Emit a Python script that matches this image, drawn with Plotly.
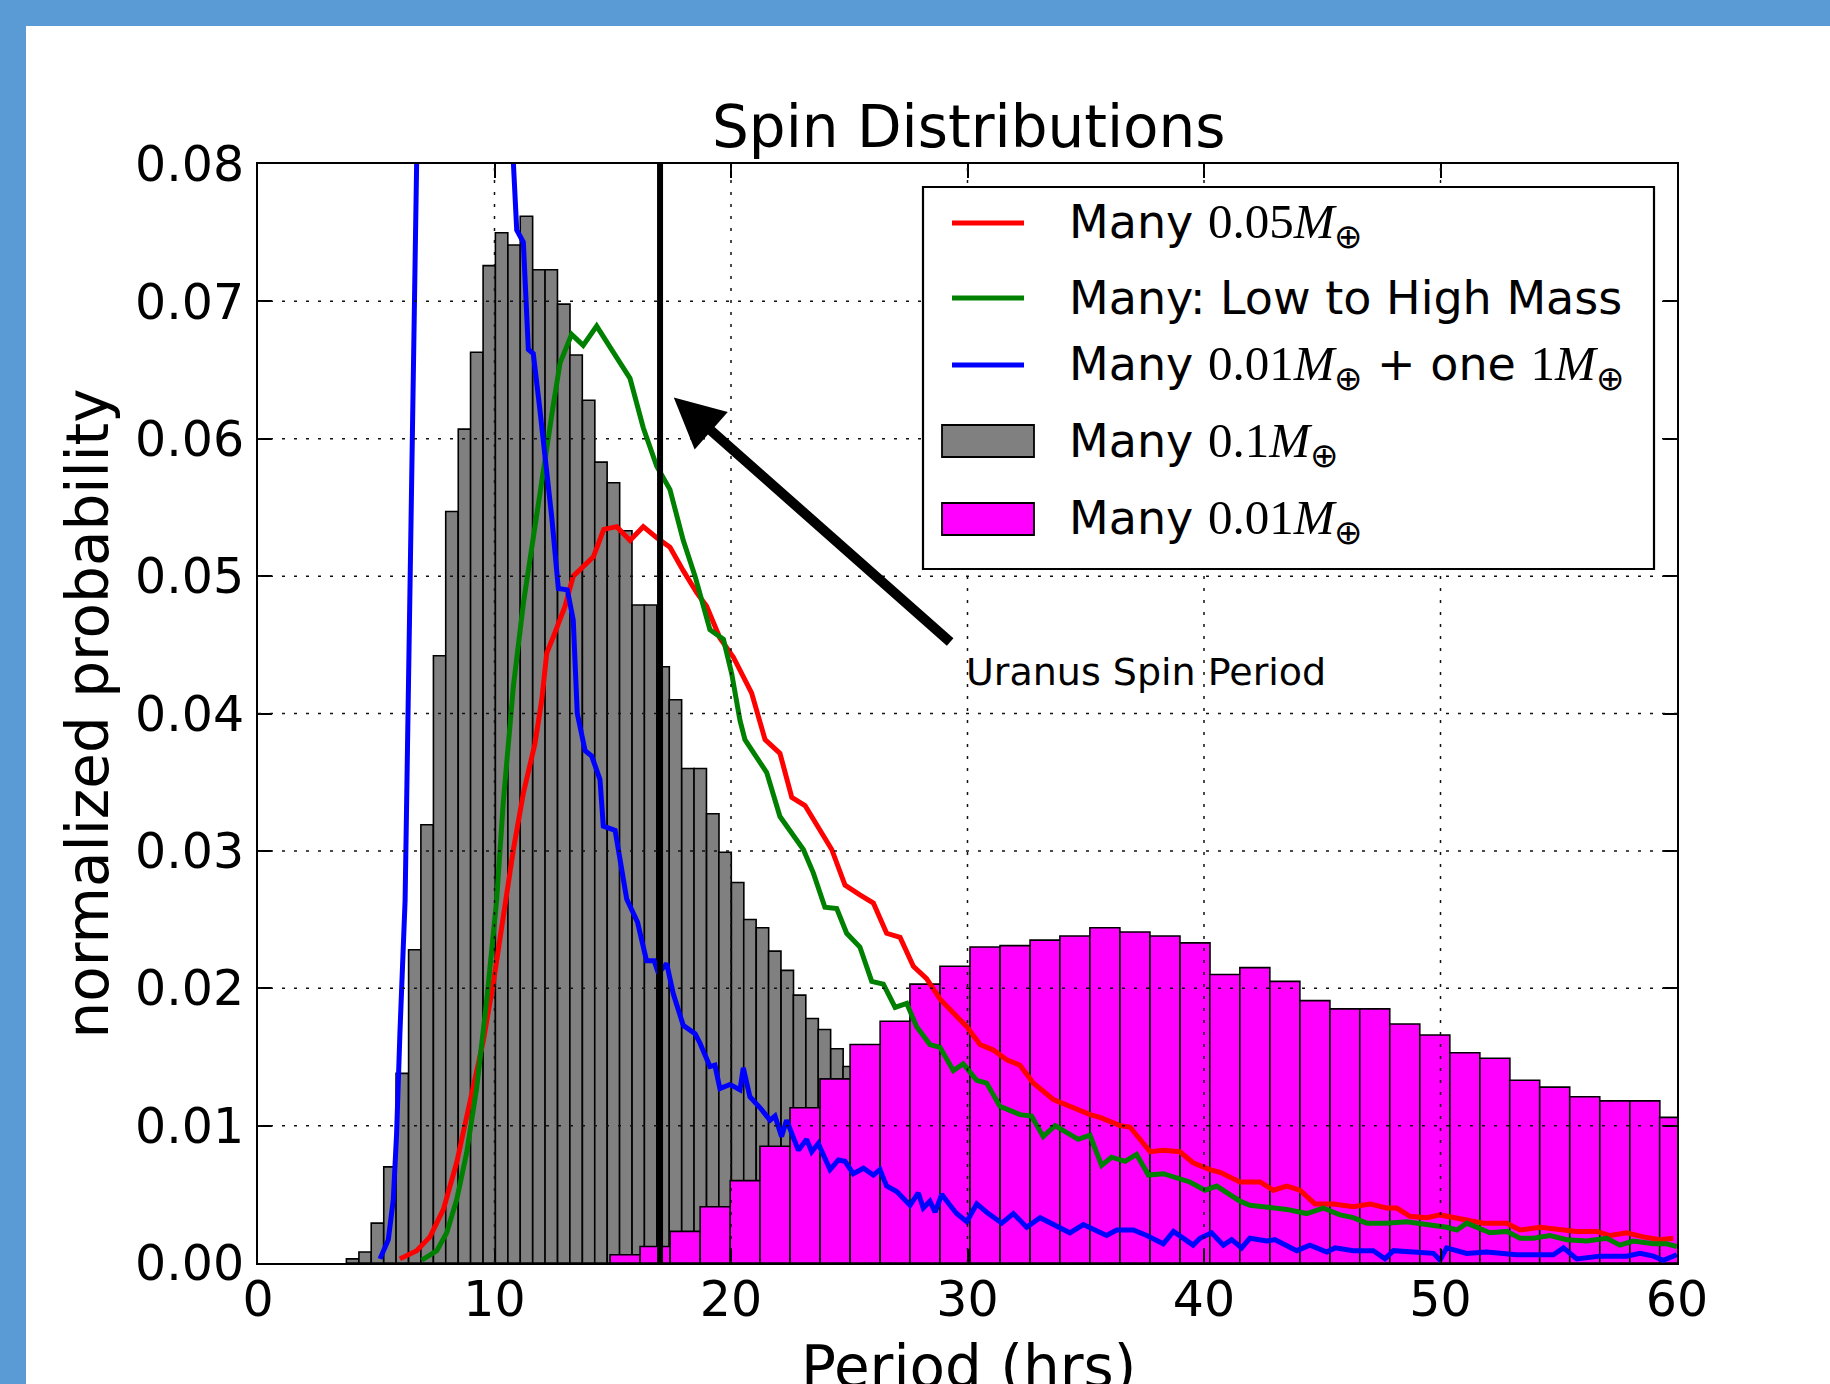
import plotly.graph_objects as go

# ---------------- data ----------------
X_TICKS = [0, 10, 20, 30, 40, 50, 60]
Y_TICKS = [0.00, 0.01, 0.02, 0.03, 0.04, 0.05, 0.06, 0.07, 0.08]

# "Many 0.1 M_earth" histogram (bin centres, normalized probability)
GRAY_CENTERS = [4.00, 4.53, 5.05, 5.58, 6.10, 6.63, 7.15, 7.68, 8.20, 8.73,
                9.25, 9.78, 10.30, 10.83, 11.35, 11.88, 12.40, 12.93, 13.45, 13.98,
                14.50, 15.03, 15.55, 16.08, 16.60, 17.13, 17.65, 18.18, 18.70, 19.23,
                19.75, 20.28, 20.80, 21.33, 21.85, 22.38, 22.90, 23.43, 23.95, 24.48,
                25.00, 25.53, 26.05, 26.58, 27.10]
GRAY_VALUES = [0.0003, 0.0008, 0.0029, 0.0070, 0.0138, 0.0228, 0.0319, 0.0442, 0.0547, 0.0607,
               0.0663, 0.0726, 0.0750, 0.0741, 0.0762, 0.0723, 0.0723, 0.0698, 0.0661, 0.0628,
               0.0583, 0.0568, 0.0533, 0.0479, 0.0479, 0.0434, 0.0410, 0.0360, 0.0360, 0.0327,
               0.0299, 0.0277, 0.0250, 0.0244, 0.0227, 0.0213, 0.0195, 0.0178, 0.0170, 0.0156,
               0.0143, 0.0132, 0.0124, 0.0116, 0.0108]

# "Many 0.01 M_earth" histogram
MAGENTA_CENTERS = [15.52, 16.79, 18.06, 19.33, 20.60, 21.86, 23.13, 24.40, 25.67, 26.94,
                   28.20, 29.47, 30.74, 32.01, 33.28, 34.54, 35.81, 37.08, 38.35, 39.62,
                   40.88, 42.15, 43.42, 44.69, 45.96, 47.22, 48.49, 49.76, 51.03, 52.30,
                   53.56, 54.83, 56.10, 57.37, 58.64, 59.90]
MAGENTA_VALUES = [0.0006, 0.0012, 0.0023, 0.0041, 0.0060, 0.0085, 0.0113, 0.0134, 0.0159, 0.0176,
                  0.0203, 0.0216, 0.0230, 0.0231, 0.0235, 0.0238, 0.0244, 0.0241, 0.0238, 0.0233,
                  0.0210, 0.0215, 0.0205, 0.0191, 0.0185, 0.0185, 0.0174, 0.0166, 0.0153, 0.0149,
                  0.0133, 0.0128, 0.0121, 0.0118, 0.0118, 0.0106]

# "Many 0.05 M_earth"
RED_X = [6.00, 6.71, 7.27, 7.84, 8.40, 8.96, 9.53, 9.95, 10.37, 10.80,
         11.22, 11.71, 12.00, 12.21, 12.49, 12.98, 13.33, 13.90, 14.18, 14.62,
         15.17, 15.73, 16.29, 16.86, 17.42, 17.98, 18.55, 18.97, 19.53, 20.10,
         20.87, 21.44, 22.07, 22.57, 23.13, 24.26, 24.82, 25.45, 26.02, 26.58,
         27.15, 27.71, 28.27, 28.84, 29.40, 29.97, 30.53, 31.09, 31.66, 32.22,
         32.78, 33.63, 34.48, 35.18, 35.60, 36.45, 36.87, 37.72, 38.28, 38.98,
         39.54, 40.25, 40.68, 41.52, 42.37, 42.93, 43.50, 44.06, 44.69, 45.47,
         46.31, 47.02, 47.72, 48.15, 48.71, 49.42, 49.98, 50.54, 51.11, 51.81,
         52.80, 53.36, 54.21, 55.05, 55.76, 56.61, 57.17, 57.87, 58.58, 59.28, 59.84]
RED_Y = [0.0003, 0.0009, 0.0019, 0.0039, 0.0073, 0.0119, 0.0162, 0.0204, 0.0252, 0.0301,
         0.0342, 0.0378, 0.0410, 0.0444, 0.0456, 0.0478, 0.0500, 0.0509, 0.0514, 0.0534,
         0.0536, 0.0526, 0.0536, 0.0528, 0.0521, 0.0504, 0.0488, 0.0478, 0.0455, 0.0441,
         0.0415, 0.0381, 0.0371, 0.0339, 0.0333, 0.0301, 0.0275, 0.0268, 0.0262, 0.0240,
         0.0237, 0.0216, 0.0207, 0.0192, 0.0182, 0.0172, 0.0159, 0.0155, 0.0148, 0.0144,
         0.0131, 0.0119, 0.0113, 0.0108, 0.0106, 0.0100, 0.0099, 0.0081, 0.0082, 0.0081,
         0.0073, 0.0068, 0.0066, 0.0059, 0.0059, 0.0053, 0.0056, 0.0053, 0.0043, 0.0043,
         0.0041, 0.0043, 0.0040, 0.0040, 0.0034, 0.0033, 0.0035, 0.0033, 0.0031, 0.0029,
         0.0029, 0.0024, 0.0026, 0.0024, 0.0023, 0.0023, 0.0020, 0.0022, 0.0019, 0.0017, 0.0018]

# "Many: Low to High Mass"
GREEN_X = [6.92, 7.56, 7.98, 8.40, 8.82, 9.25, 9.67, 10.09, 10.37, 10.80,
           11.22, 11.64, 12.06, 12.49, 12.77, 13.26, 13.75, 14.32, 15.02, 15.73,
           16.29, 16.86, 17.42, 17.98, 18.48, 19.11, 19.68, 20.03, 20.38, 20.59,
           21.51, 22.07, 23.06, 23.48, 23.97, 24.47, 24.89, 25.45, 25.95, 26.44,
           26.94, 27.43, 27.85, 28.41, 28.84, 29.40, 29.82, 30.39, 30.81, 31.37,
           32.22, 32.71, 33.20, 33.70, 34.68, 35.18, 35.67, 36.09, 36.66, 37.15,
           37.65, 38.28, 39.40, 40.04, 40.54, 41.52, 41.94, 42.65, 43.50, 44.34,
           45.04, 45.75, 46.31, 46.88, 47.72, 48.57, 49.42, 50.26, 50.69, 51.11,
           52.09, 52.80, 53.36, 53.92, 54.63, 55.34, 56.18, 57.03, 57.59, 58.15,
           59.00, 59.56, 59.99]
GREEN_Y = [0.0002, 0.0009, 0.0022, 0.0046, 0.0080, 0.0128, 0.0191, 0.0264, 0.0335, 0.0420,
           0.0480, 0.0530, 0.0580, 0.0625, 0.0655, 0.0676, 0.0668, 0.0682, 0.0663, 0.0644,
           0.0608, 0.0580, 0.0563, 0.0526, 0.0500, 0.0461, 0.0454, 0.0429, 0.0395, 0.0381,
           0.0357, 0.0325, 0.0301, 0.0284, 0.0259, 0.0258, 0.0240, 0.0230, 0.0205, 0.0203,
           0.0186, 0.0189, 0.0172, 0.0159, 0.0157, 0.0140, 0.0145, 0.0133, 0.0131, 0.0114,
           0.0108, 0.0107, 0.0092, 0.0100, 0.0090, 0.0093, 0.0071, 0.0077, 0.0074, 0.0079,
           0.0064, 0.0065, 0.0059, 0.0053, 0.0056, 0.0045, 0.0042, 0.0041, 0.0039, 0.0036,
           0.0040, 0.0035, 0.0033, 0.0029, 0.0029, 0.0030, 0.0028, 0.0026, 0.0024, 0.0029,
           0.0022, 0.0023, 0.0018, 0.0018, 0.0020, 0.0017, 0.0016, 0.0018, 0.0013, 0.0016,
           0.0014, 0.0014, 0.0012]

# "Many 0.01 M_earth + one 1 M_earth" (peak runs off the top of the axes)
BLUE_X = [5.16, 5.51, 5.72, 5.86, 6.00, 6.22, 6.78, 7.35, 8.20, 9.00,
          9.80, 10.38, 10.94, 11.22, 11.43, 11.64, 11.92, 12.42, 12.70, 13.08,
          13.33, 13.50, 13.83, 14.11, 14.46, 14.60, 15.10, 15.59, 16.05, 16.43,
          16.75, 16.93, 17.28, 17.56, 17.98, 18.48, 18.69, 19.11, 19.32, 19.53,
          19.96, 20.38, 20.52, 20.80, 21.23, 21.65, 21.86, 22.14, 22.35, 22.85,
          23.20, 23.41, 23.69, 24.19, 24.54, 24.82, 25.17, 25.60, 26.02, 26.30,
          26.58, 27.01, 27.57, 27.92, 28.13, 28.41, 28.63, 28.91, 29.26, 29.54,
          29.97, 30.39, 30.81, 31.45, 31.94, 32.50, 33.07, 33.49, 34.33, 34.90,
          35.88, 36.31, 37.01, 37.58, 38.28, 38.71, 39.54, 39.83, 40.32, 40.82,
          41.17, 41.59, 41.94, 42.65, 43.00, 43.92, 44.48, 45.19, 45.54, 46.31,
          47.16, 47.65, 48.01, 48.85, 49.70, 49.98, 50.26, 51.11, 51.95, 53.22,
          54.77, 55.20, 55.76, 56.75, 57.87, 58.44, 59.00, 59.42, 59.99]
BLUE_Y = [0.0003, 0.0017, 0.0046, 0.0094, 0.0167, 0.0264, 0.0880, 0.1150, 0.1250, 0.1200,
          0.1050, 0.0945, 0.0752, 0.0743, 0.0665, 0.0662, 0.0621, 0.0543, 0.0491, 0.0490,
          0.0468, 0.0400, 0.0373, 0.0369, 0.0352, 0.0318, 0.0315, 0.0265, 0.0248, 0.0220,
          0.0220, 0.0211, 0.0218, 0.0196, 0.0173, 0.0167, 0.0160, 0.0143, 0.0144, 0.0127,
          0.0130, 0.0126, 0.0142, 0.0121, 0.0113, 0.0104, 0.0107, 0.0092, 0.0104, 0.0082,
          0.0090, 0.0081, 0.0087, 0.0068, 0.0075, 0.0074, 0.0065, 0.0069, 0.0064, 0.0068,
          0.0056, 0.0052, 0.0042, 0.0051, 0.0040, 0.0045, 0.0037, 0.0050, 0.0042, 0.0036,
          0.0030, 0.0043, 0.0037, 0.0029, 0.0036, 0.0026, 0.0033, 0.0029, 0.0022, 0.0028,
          0.0020, 0.0024, 0.0024, 0.0020, 0.0014, 0.0023, 0.0013, 0.0018, 0.0022, 0.0013,
          0.0017, 0.0011, 0.0018, 0.0016, 0.0017, 0.0009, 0.0013, 0.0008, 0.0011, 0.0009,
          0.0009, 0.0003, 0.0009, 0.0008, 0.0007, 0.0002, 0.0011, 0.0007, 0.0008, 0.0006,
          0.0006, 0.0011, 0.0003, 0.0005, 0.0005, 0.0007, 0.0005, 0.0002, 0.0006]

URANUS_PERIOD = 17.0          # hrs, vertical marker
ARROW_HEAD = (17.58, 0.0630)  # annotation arrow (data coords)
ARROW_TAIL = (29.33, 0.0451)
ARROW_TEXT_POS = (29.84, 0.0430)

SERIF = "font-family:'Liberation Serif';font-size:49px"
ME = "<i>M</i><sub>⊕</sub>"
LEGEND_LABELS = [
    f"Many <span style=\"{SERIF}\">0.05{ME}</span>",
    "Many: Low to High Mass",
    f"Many <span style=\"{SERIF}\">0.01{ME}</span> + one <span style=\"{SERIF}\">1{ME}</span>",
    f"Many <span style=\"{SERIF}\">0.1{ME}</span>",
    f"Many <span style=\"{SERIF}\">0.01{ME}</span>",
]
LINE_COLORS = ["#ff0000", "#008000", "#0000ff"]
BAR_COLORS = ["#808080", "#ff00ff"]

FONT = "DejaVu Sans"

# ---------------- figure ----------------
W, H = 1830, 1384
L, R, T, B = 258, 153, 164, 121
PW, PH = W - L - R, H - T - B


def px(xp):
    return (xp - L) / PW


def py(yp):
    return (H - B - yp) / PH


fig = go.Figure()

fig.add_trace(go.Bar(x=GRAY_CENTERS, y=GRAY_VALUES, width=0.525, name="Many 0.1M",
                     marker=dict(color=BAR_COLORS[0], line=dict(color="black", width=1.6)),
                     opacity=1, showlegend=False))
fig.add_trace(go.Bar(x=MAGENTA_CENTERS, y=MAGENTA_VALUES, width=1.268, name="Many 0.01M",
                     marker=dict(color=BAR_COLORS[1], line=dict(color="black", width=1.6)),
                     opacity=1, showlegend=False))
for xs, ys, c in [(RED_X, RED_Y, LINE_COLORS[0]),
                  (GREEN_X, GREEN_Y, LINE_COLORS[1]),
                  (BLUE_X, BLUE_Y, LINE_COLORS[2])]:
    fig.add_trace(go.Scatter(x=xs, y=ys, mode="lines", line=dict(color=c, width=5),
                             showlegend=False))

shapes = []
# page: blue frame with white sheet
shapes.append(dict(type="rect", xref="paper", yref="paper", x0=px(26), x1=1.5,
                   y0=-0.5, y1=py(26), fillcolor="white", line=dict(width=0), layer="below"))
# dotted grid above the bars
for xv in X_TICKS[1:-1]:
    shapes.append(dict(type="line", xref="x", yref="y domain", x0=xv, x1=xv, y0=0, y1=1,
                       line=dict(color="#111", width=1.5, dash="3px,9px"), layer="above"))
for yv in Y_TICKS[1:-1]:
    shapes.append(dict(type="line", xref="x domain", yref="y", x0=0, x1=1, y0=yv, y1=yv,
                       line=dict(color="#111", width=1.5, dash="3px,9px"), layer="above"))
# Uranus marker
shapes.append(dict(type="line", xref="x", yref="y domain", x0=URANUS_PERIOD, x1=URANUS_PERIOD,
                   y0=0, y1=1, line=dict(color="black", width=6), layer="above"))
# legend box
shapes.append(dict(type="rect", xref="paper", yref="paper", x0=px(923), x1=px(1654),
                   y0=py(569), y1=py(187), fillcolor="white",
                   line=dict(color="black", width=2.2), layer="above"))
row_y = [223, 298, 365, 441, 519]
for i, c in enumerate(LINE_COLORS):
    shapes.append(dict(type="line", xref="paper", yref="paper", x0=px(952), x1=px(1024),
                       y0=py(row_y[i]), y1=py(row_y[i]), line=dict(color=c, width=5),
                       layer="above"))
for j, c in enumerate(BAR_COLORS):
    yc = row_y[3 + j]
    shapes.append(dict(type="rect", xref="paper", yref="paper", x0=px(942), x1=px(1034),
                       y0=py(yc + 16), y1=py(yc - 16), fillcolor=c,
                       line=dict(color="black", width=1.8), layer="above"))

annotations = []
text_y = [225, 298, 367, 443, 520]
for lab, ty in zip(LEGEND_LABELS, text_y):
    annotations.append(dict(xref="paper", yref="paper", x=px(1067), y=py(ty), text=lab,
                            showarrow=False, xanchor="left", yanchor="middle",
                            font=dict(family=FONT, size=46, color="black")))
# title and axis titles
annotations.append(dict(xref="paper", yref="paper", x=px(968.6), y=py(127),
                        text="Spin Distributions", showarrow=False, xanchor="center",
                        yanchor="middle", font=dict(family=FONT, size=58, color="black")))
annotations.append(dict(xref="paper", yref="paper", x=px(968.6), y=py(1366.7),
                        text="Period (hrs)", showarrow=False, xanchor="center",
                        yanchor="middle", font=dict(family=FONT, size=58, color="black")))
annotations.append(dict(xref="paper", yref="paper", x=px(87), y=0.5,
                        text="normalized probability", textangle=-90, showarrow=False,
                        xanchor="center", yanchor="middle",
                        font=dict(family=FONT, size=58, color="black")))
# arrow + text
annotations.append(dict(xref="x", yref="y", axref="x", ayref="y",
                        x=ARROW_HEAD[0], y=ARROW_HEAD[1], ax=ARROW_TAIL[0], ay=ARROW_TAIL[1],
                        text="", showarrow=True, arrowhead=2, arrowsize=1, arrowwidth=10,
                        arrowcolor="black"))
annotations.append(dict(xref="x", yref="y", x=ARROW_TEXT_POS[0], y=ARROW_TEXT_POS[1],
                        text="Uranus Spin Period", showarrow=False, xanchor="left",
                        yanchor="middle", font=dict(family=FONT, size=38, color="black")))

axis_common = dict(ticks="inside", ticklen=14, tickwidth=1.5, tickcolor="black",
                   showline=True, linecolor="black", linewidth=2, mirror="ticks",
                   showgrid=False, zeroline=False,
                   tickfont=dict(family=FONT, size=49, color="black"))

fig.update_layout(
    width=W, height=H, autosize=False,
    margin=dict(l=L, r=R, t=T, b=B),
    paper_bgcolor="#5b9bd5", plot_bgcolor="white",
    barmode="overlay", showlegend=False,
    xaxis=dict(range=[0, 60], tickvals=X_TICKS, ticklabelstandoff=-8, **axis_common),
    yaxis=dict(range=[0, 0.08], tickvals=Y_TICKS, tickformat=".2f", ticklabelstandoff=2,
               **axis_common),
    shapes=shapes, annotations=annotations,
)

fig.write_html("out.html")
